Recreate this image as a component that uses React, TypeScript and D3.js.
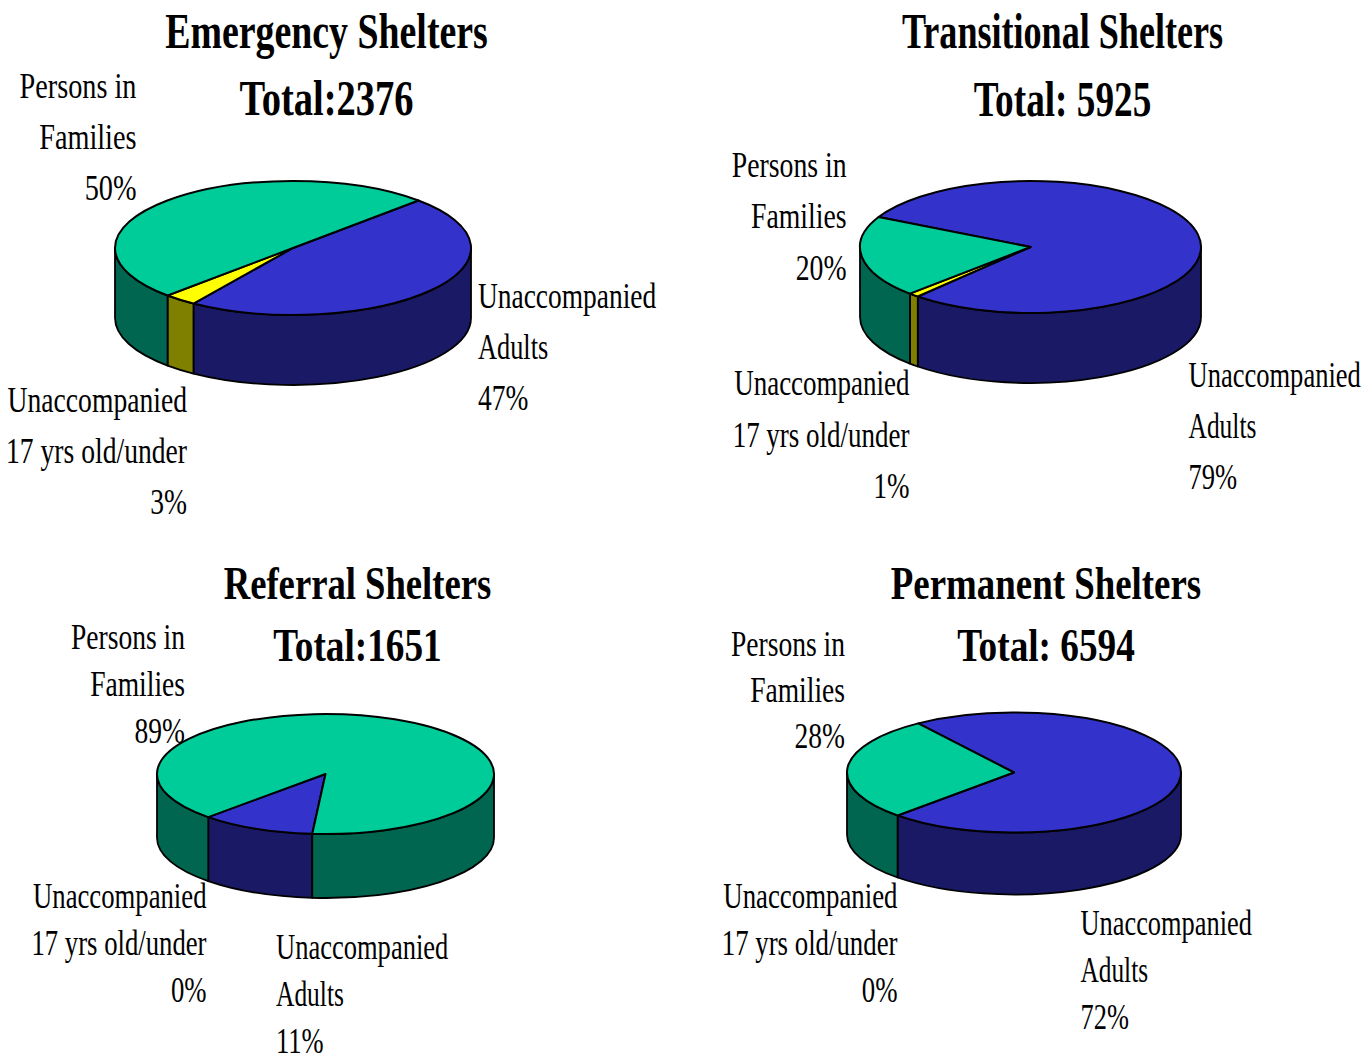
import React from "react";
import * as d3 from "d3";

const categories = ["Unaccompanied Adults", "Unaccompanied 17 yrs old/under", "Persons in Families"];
const colors = ["#3333cc", "#ffff00", "#00cc99"];
const sideColors = ["#191966", "#808000", "#006650"];

const titles = ["Emergency Shelters", "Transitional Shelters", "Referral Shelters", "Permanent Shelters"];
const totals = ["Total:2376", "Total: 5925", "Total:1651", "Total: 6594"];
const emergency = [47, 3, 50];
const transitional = [79, 1, 20];
const referral = [11, 0, 89];
const permanent = [72, 0, 28];
const seriesValues = [emergency, transitional, referral, permanent];
const firstSliceAngles = [44.8, 297, 184.5, 325];

// [cx, cy, rx, ry, depth]
const pieBoxes = [
  [293, 248, 178, 67, 70],
  [1030.5, 247, 170.5, 66, 70],
  [325.5, 774, 168.5, 60, 64],
  [1014, 772.5, 167, 60, 62],
];
// x, title baseline, total baseline, font size, title stretch, total stretch
const titleSpots = [
  [326.5, 48, 115, 50, 0.757, 0.77],
  [1062.5, 48, 116, 50, 0.722, 0.745],
  [357.5, 599, 661, 46, 0.797, 0.81],
  [1046, 599, 661, 46, 0.802, 0.81],
];
// label anchors per chart, in category order: x, first baseline, text-anchor, line step
const labelSpots: [number, number, string, number][][] = [
  [[478, 308, "start", 51], [187, 412, "end", 51], [136.5, 97.5, "end", 51]],
  [[1188.5, 387, "start", 51], [909.5, 395, "end", 51.5], [846.5, 176.5, "end", 51.5]],
  [[276, 959, "start", 47], [206.5, 907.5, "end", 47], [185, 649, "end", 47]],
  [[1080.5, 935, "start", 47], [897.5, 907.5, "end", 47], [845, 656, "end", 46]],
];
// horizontal squeeze per chart and category; the reference is unevenly condensed
const labelStretch = [
  [0.762, 0.767, 0.785],
  [0.737, 0.75, 0.77],
  [0.737, 0.742, 0.765],
  [0.733, 0.745, 0.765],
];
const labelLines = [["Unaccompanied", "Adults"], ["Unaccompanied", "17 yrs old/under"], ["Persons in", "Families"]];

const rad = Math.PI / 180;

function Txt({ x, y, size, sx, bold, anchor = "middle", children }: any) {
  return (
    <text
      transform={`translate(${x},${y}) scale(${sx},1)`}
      fontFamily="'Liberation Serif', serif"
      fontSize={size}
      fontWeight={bold ? "bold" : "normal"}
      textAnchor={anchor}
      fill="#000"
    >
      {children}
    </text>
  );
}

function Pie3D({ index }: { index: number }) {
  const [cx, cy, rx, ry, depth] = pieBoxes[index];
  const values = seriesValues[index];
  const start = firstSliceAngles[index] * rad;
  const pie = d3.pie<number>().sort(null).startAngle(start).endAngle(start + 2 * Math.PI);
  const arcs = pie(values);
  const arc = d3.arc<d3.PieArcDatum<number>>().innerRadius(0).outerRadius(rx);
  const px = (a: number) => cx + rx * Math.sin(a);
  const py = (a: number) => cy - ry * Math.cos(a);

  // front wall only: the part of each slice between 90 and 270 degrees
  const walls: { d: string; fill: string }[] = [];
  arcs.forEach((s, i) => {
    if (s.value === 0) return;
    [0, 2 * Math.PI].forEach((turn) => {
      const a0 = Math.max(s.startAngle, Math.PI / 2 + turn);
      const a1 = Math.min(s.endAngle, (3 * Math.PI) / 2 + turn);
      if (a1 <= a0) return;
      const d =
        `M${px(a0)},${py(a0)}` +
        `A${rx},${ry} 0 0 1 ${px(a1)},${py(a1)}` +
        `L${px(a1)},${py(a1) + depth}` +
        `A${rx},${ry} 0 0 0 ${px(a0)},${py(a0) + depth}Z`;
      walls.push({ d, fill: sideColors[i] });
    });
  });

  return (
    <g>
      {walls.map((w, i) => (
        <path key={i} d={w.d} fill={w.fill} stroke="#000" strokeWidth={1.8} strokeLinejoin="round" />
      ))}
      <g transform={`translate(${cx},${cy}) scale(1,${ry / rx})`}>
        {arcs.map((s, i) =>
          s.value === 0 ? null : (
            <path
              key={i}
              d={arc(s) as string}
              fill={colors[i]}
              stroke="#000"
              strokeWidth={2}
              strokeLinejoin="round"
              vectorEffect="non-scaling-stroke"
            />
          )
        )}
      </g>
    </g>
  );
}

export default function App() {
  return (
    <svg
      width={1372}
      height={1057}
      viewBox="0 0 1372 1057"
      style={{ position: "absolute", left: 0, top: 0, background: "#fff" }}
    >
      {titles.map((t, i) => {
        const [x, y1, y2, size, sx1, sx2] = titleSpots[i];
        return (
          <g key={t}>
            <Txt x={x} y={y1} size={size} sx={sx1} bold>{t}</Txt>
            <Txt x={x} y={y2} size={size} sx={sx2} bold>{totals[i]}</Txt>
          </g>
        );
      })}
      {seriesValues.map((vals, i) => (
        <g key={i}>
          <Pie3D index={i} />
          {categories.map((c, j) => {
            const [x, y, anchor, lh] = labelSpots[i][j];
            const rows = [...labelLines[j], `${vals[j]}%`];
            return rows.map((r, k) => (
              <Txt
                key={c + k}
                x={x}
                y={y + k * lh}
                size={36}
                sx={labelStretch[i][j] * (r === "Adults" ? 0.96 : 1)}
                anchor={anchor}
              >
                {r}
              </Txt>
            ));
          })}
        </g>
      ))}
    </svg>
  );
}
